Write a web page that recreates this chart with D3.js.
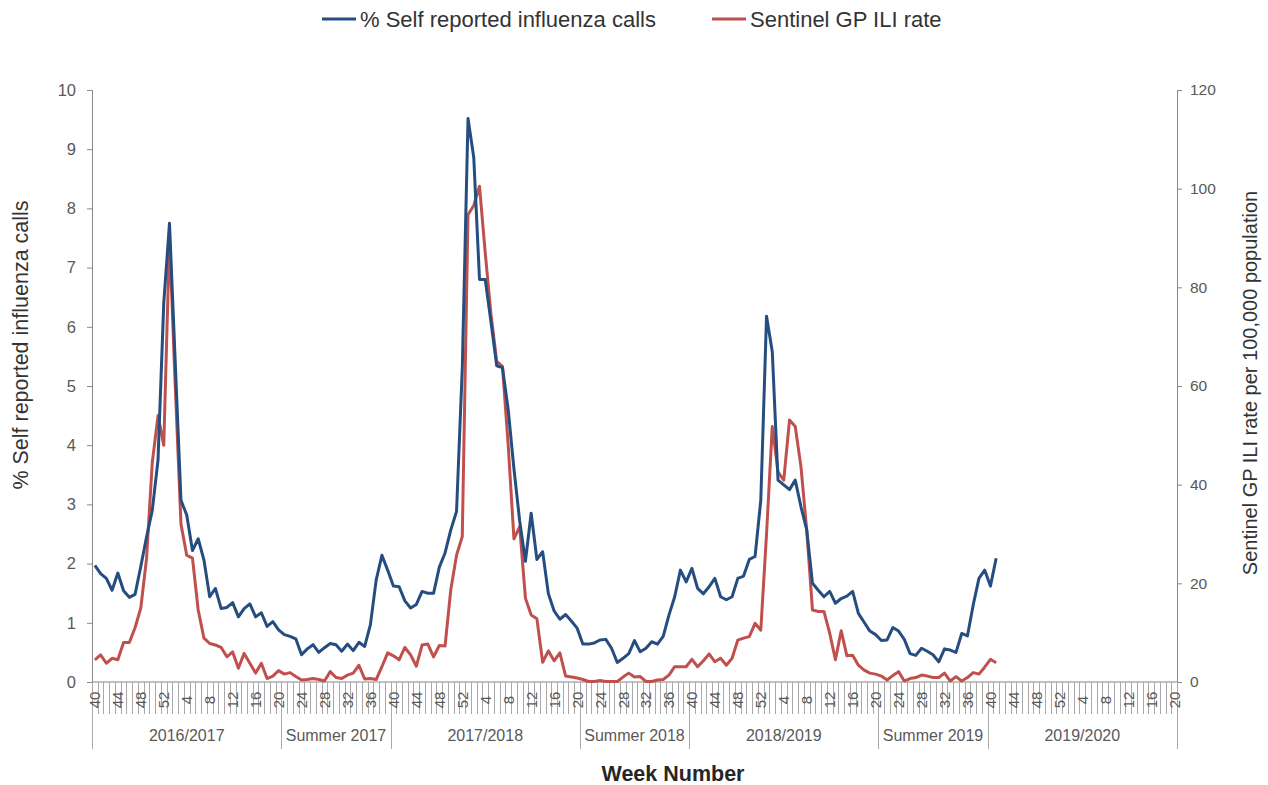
<!DOCTYPE html>
<html>
<head>
<meta charset="utf-8">
<script src="https://cdn.jsdelivr.net/npm/d3@7"></script>
<style>
  html, body { margin: 0; padding: 0; background: #fff; }
  svg { display: block; font-family: "Liberation Sans", Arial, sans-serif; }
</style>
</head>
<body>
<svg id="chart" width="1268" height="785"></svg>
<script>
// ---------------- DATA ----------------
const seasonLabels = ["2016/2017", "Summer 2017", "2017/2018", "Summer 2018", "2018/2019", "Summer 2019", "2019/2020"];
const seasonStartWeek = [40, 21, 40, 21, 40, 21, 40];
const seasonEndWeek   = [20, 39, 20, 39, 20, 39, 20];
const weeksInYear = 52;
const labelInterval = 4;

// % Self reported influenza calls (left axis), week 40 2016 .. week 41 2019
const selfReported = [
  1.97, 1.83, 1.75, 1.55, 1.84, 1.54, 1.43, 1.48, 1.95, 2.45,
  2.90, 3.75, 6.40, 7.75, 5.40, 3.07, 2.82, 2.22, 2.42, 2.06,
  1.44, 1.58, 1.24, 1.26, 1.34, 1.10, 1.24, 1.32, 1.10, 1.17,
  0.94, 1.02, 0.88, 0.80, 0.77, 0.73, 0.46, 0.56, 0.63, 0.50,
  0.58, 0.65, 0.63, 0.52, 0.64, 0.53, 0.67, 0.60, 0.97, 1.72,
  2.14, 1.89, 1.62, 1.61, 1.37, 1.25, 1.31, 1.53, 1.50, 1.50,
  1.94, 2.18, 2.57, 2.88, 5.30, 9.52, 8.86, 6.80, 6.80, 6.08,
  5.34, 5.31, 4.60, 3.60, 2.72, 2.04, 2.85, 2.07, 2.20, 1.49,
  1.20, 1.06, 1.14, 1.03, 0.91, 0.64, 0.64, 0.66, 0.71, 0.72,
  0.57, 0.33, 0.40, 0.48, 0.70, 0.51, 0.57, 0.68, 0.64, 0.77,
  1.13, 1.44, 1.89, 1.69, 1.92, 1.58, 1.49, 1.61, 1.75, 1.44,
  1.39, 1.44, 1.75, 1.79, 2.07, 2.12, 3.07, 6.18, 5.58, 3.41,
  3.33, 3.25, 3.41, 2.96, 2.57, 1.67, 1.55, 1.44, 1.53, 1.33,
  1.41, 1.45, 1.53, 1.16, 1.01, 0.86, 0.80, 0.70, 0.71, 0.92,
  0.86, 0.72, 0.48, 0.45, 0.57, 0.52, 0.46, 0.34, 0.56, 0.54,
  0.50, 0.82, 0.78, 1.30, 1.75, 1.89, 1.62, 2.09
];

// Sentinel GP ILI rate per 100,000 (right axis)
const gpIliRate = [
  4.5, 5.5, 3.8, 4.8, 4.5, 8.0, 8.0, 11.0, 15.0, 25.0,
  44.5, 54.0, 48.0, 90.0, 60.0, 32.0, 25.7, 25.1, 14.6, 8.9,
  7.8, 7.5, 7.0, 5.1, 6.1, 2.8, 5.8, 3.8, 1.8, 3.8,
  0.7, 1.2, 2.3, 1.6, 1.9, 1.1, 0.4, 0.5, 0.7, 0.5,
  0.2, 2.1, 0.9, 0.7, 1.4, 1.8, 3.4, 0.6, 0.7, 0.5,
  3.1, 5.9, 5.3, 4.5, 7.0, 5.5, 3.2, 7.5, 7.7, 5.1,
  7.4, 7.3, 18.7, 25.7, 29.5, 94.7, 96.6, 100.5, 87.0, 74.5,
  65.0, 64.0, 48.0, 29.0, 31.5, 17.0, 13.6, 12.8, 4.0, 6.3,
  4.3, 5.9, 1.2, 1.0, 0.8, 0.5, 0.1, 0.1, 0.3, 0.1,
  0.1, 0.1, 1.0, 1.8, 1.0, 1.1, 0.1, 0.1, 0.4, 0.5,
  1.4, 3.1, 3.1, 3.1, 4.6, 3.1, 4.3, 5.7, 4.1, 4.8,
  3.4, 4.8, 8.5, 8.9, 9.2, 11.9, 10.5, 30.0, 51.8, 42.6,
  40.9, 53.1, 51.8, 43.6, 30.8, 14.6, 14.3, 14.3, 9.9, 4.5,
  10.4, 5.3, 5.4, 3.4, 2.4, 1.8, 1.6, 1.2, 0.4, 1.3,
  2.1, 0.2, 0.7, 0.9, 1.4, 1.2, 0.9, 0.9, 1.8, 0.2,
  1.1, 0.2, 0.9, 1.9, 1.6, 3.0, 4.6, 3.9
];

const leftTicks = [0,1,2,3,4,5,6,7,8,9,10];
const rightTicks = [0,20,40,60,80,100,120];
const seriesNames = ["% Self reported influenza calls", "Sentinel GP ILI rate"];
const seriesColors = ["#264d80", "#c0504d"];

// ---------------- BUILD CATEGORIES ----------------
const categories = [];
const seasonSpans = [];
seasonLabels.forEach((lab, s) => {
  const first = categories.length;
  let w = seasonStartWeek[s];
  while (true) {
    categories.push({ week: w, season: s });
    if (w === seasonEndWeek[s]) break;
    w = (w === weeksInYear) ? 1 : w + 1;
  }
  seasonSpans.push({ label: lab, first: first, last: categories.length - 1 });
});

// ---------------- LAYOUT ----------------
const svg = d3.select("#chart");
const plotL = 92, plotR = 1177, plotT = 90, plotB = 682;
const textColor = "#595959";
const axisColor = "#868686";

const x = d3.scaleBand().domain(d3.range(categories.length)).range([plotL, plotR]).padding(0);
const bw = x.bandwidth();
const yL = d3.scaleLinear().domain([0, 10]).range([plotB, plotT]);
const yR = d3.scaleLinear().domain([0, 120]).range([plotB, plotT]);

// Left axis
const axL = svg.append("g").attr("transform", `translate(${plotL},0)`)
  .call(d3.axisLeft(yL).tickValues(leftTicks).tickSize(5).tickPadding(11).tickFormat(d3.format("d")));
axL.select(".domain").attr("stroke", axisColor);
axL.selectAll(".tick line").attr("stroke", axisColor);
axL.selectAll(".tick text").attr("fill", textColor).style("font-size", "16.5px")
   .style("font-family", "'Liberation Sans', Arial, sans-serif");

// Right axis
const axR = svg.append("g").attr("transform", `translate(${plotR},0)`)
  .call(d3.axisRight(yR).tickValues(rightTicks).tickSize(5).tickPadding(8).tickFormat(d3.format("d")));
axR.select(".domain").attr("stroke", axisColor);
axR.selectAll(".tick line").attr("stroke", axisColor);
axR.selectAll(".tick text").attr("fill", textColor).style("font-size", "15.5px")
   .style("font-family", "'Liberation Sans', Arial, sans-serif");

// Bottom axis line
svg.append("line").attr("x1", plotL).attr("x2", plotR).attr("y1", plotB).attr("y2", plotB)
  .attr("stroke", axisColor).attr("stroke-width", 1);

// Weekly category tick lines (level 1)
const boundaries = d3.range(categories.length + 1);
svg.append("g").selectAll("line").data(boundaries).join("line")
  .attr("x1", d => Math.round(plotL + d * bw) + 0.5)
  .attr("x2", d => Math.round(plotL + d * bw) + 0.5)
  .attr("y1", plotB).attr("y2", 714)
  .attr("stroke", "#a9a9a9").attr("stroke-width", 1);

// Season boundary lines (level 2)
const seasonEdges = [0].concat(seasonSpans.map(s => s.last + 1));
svg.append("g").selectAll("line").data(seasonEdges).join("line")
  .attr("x1", d => Math.round(plotL + d * bw) + 0.5)
  .attr("x2", d => Math.round(plotL + d * bw) + 0.5)
  .attr("y1", plotB).attr("y2", 749)
  .attr("stroke", "#a9a9a9").attr("stroke-width", 1);

// Week labels (rotated)
svg.append("g").selectAll("text")
  .data(categories.map((c, i) => ({ c, i })).filter(d => d.c.week % labelInterval === 0))
  .join("text")
  .attr("transform", d => `translate(${x(d.i) + bw / 2 + 5.5},700) rotate(-90)`)
  .attr("text-anchor", "middle")
  .attr("fill", textColor)
  .style("font-size", "15px")
  .text(d => d.c.week);

// Season labels
svg.append("g").selectAll("text").data(seasonSpans).join("text")
  .attr("x", d => (x(d.first) + x(d.last) + bw) / 2)
  .attr("y", 741)
  .attr("text-anchor", "middle")
  .attr("fill", textColor)
  .style("font-size", "16px")
  .text(d => d.label);

// Lines
const lineL = d3.line().x((d, i) => x(i) + bw / 2).y(d => yL(d));
const lineR = d3.line().x((d, i) => x(i) + bw / 2).y(d => yR(d));

svg.append("path").datum(gpIliRate).attr("d", lineR)
  .attr("fill", "none").attr("stroke", seriesColors[1]).attr("stroke-width", 3)
  .attr("stroke-linejoin", "round");
svg.append("path").datum(selfReported).attr("d", lineL)
  .attr("fill", "none").attr("stroke", seriesColors[0]).attr("stroke-width", 3)
  .attr("stroke-linejoin", "round");

// Axis titles
svg.append("text")
  .attr("transform", "translate(28,345) rotate(-90)")
  .attr("text-anchor", "middle").attr("fill", "#333")
  .style("font-size", "21.5px")
  .text("% Self reported influenza calls");

svg.append("text")
  .attr("transform", "translate(1257,383) rotate(-90)")
  .attr("text-anchor", "middle").attr("fill", "#333")
  .style("font-size", "20px")
  .text("Sentinel GP ILI rate per 100,000 population");

svg.append("text")
  .attr("x", 673).attr("y", 781)
  .attr("text-anchor", "middle").attr("fill", "#262626")
  .style("font-size", "21.5px").style("font-weight", "bold")
  .text("Week Number");

// Legend
const legendX = [322, 712];
const legend = svg.append("g");
seriesNames.forEach((name, k) => {
  legend.append("line")
    .attr("x1", legendX[k]).attr("x2", legendX[k] + 34)
    .attr("y1", 19).attr("y2", 19)
    .attr("stroke", seriesColors[k]).attr("stroke-width", 3);
  legend.append("text")
    .attr("x", legendX[k] + 38).attr("y", 27)
    .attr("fill", "#333")
    .style("font-size", "22px")
    .text(name);
});
</script>
</body>
</html>
